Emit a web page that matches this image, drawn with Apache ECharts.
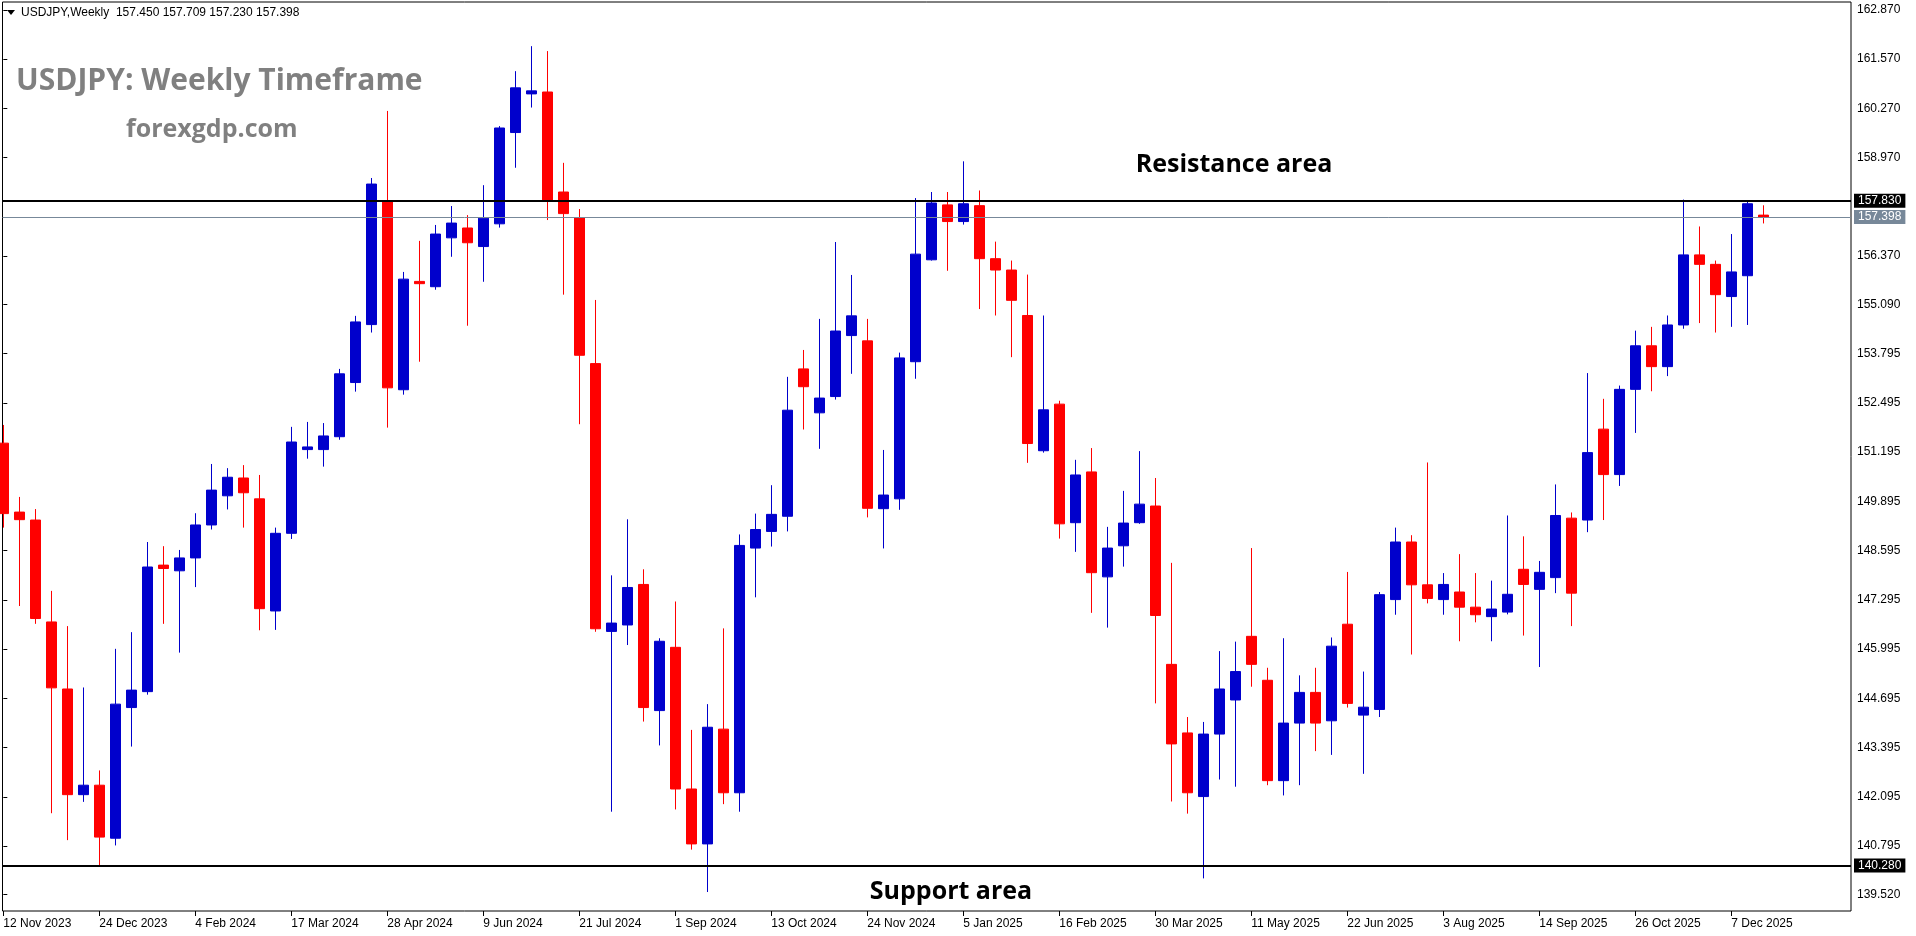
<!DOCTYPE html>
<html><head><meta charset="utf-8">
<script src="https://cdn.jsdelivr.net/npm/echarts@6/dist/echarts.min.js"></script>
<style>html,body{margin:0;padding:0;background:#fff;overflow:hidden}#c{width:1916px;height:936px}</style>
</head><body><div id="c"></div>
<script>
const dates = [
'12 Nov 2023','19 Nov 2023','26 Nov 2023','3 Dec 2023','10 Dec 2023','17 Dec 2023','24 Dec 2023','31 Dec 2023',
'7 Jan 2024','14 Jan 2024','21 Jan 2024','28 Jan 2024','4 Feb 2024','11 Feb 2024','18 Feb 2024','25 Feb 2024',
'3 Mar 2024','10 Mar 2024','17 Mar 2024','24 Mar 2024','31 Mar 2024','7 Apr 2024','14 Apr 2024','21 Apr 2024','28 Apr 2024',
'5 May 2024','12 May 2024','19 May 2024','26 May 2024','2 Jun 2024','9 Jun 2024','16 Jun 2024','23 Jun 2024','30 Jun 2024',
'7 Jul 2024','14 Jul 2024','21 Jul 2024','28 Jul 2024','4 Aug 2024','11 Aug 2024','18 Aug 2024','25 Aug 2024',
'1 Sep 2024','8 Sep 2024','15 Sep 2024','22 Sep 2024','29 Sep 2024','6 Oct 2024','13 Oct 2024','20 Oct 2024','27 Oct 2024',
'3 Nov 2024','10 Nov 2024','17 Nov 2024','24 Nov 2024','1 Dec 2024','8 Dec 2024','15 Dec 2024','22 Dec 2024','29 Dec 2024',
'5 Jan 2025','12 Jan 2025','19 Jan 2025','26 Jan 2025','2 Feb 2025','9 Feb 2025','16 Feb 2025','23 Feb 2025',
'2 Mar 2025','9 Mar 2025','16 Mar 2025','23 Mar 2025','30 Mar 2025','6 Apr 2025','13 Apr 2025','20 Apr 2025','27 Apr 2025',
'4 May 2025','11 May 2025','18 May 2025','25 May 2025','1 Jun 2025','8 Jun 2025','15 Jun 2025','22 Jun 2025','29 Jun 2025',
'6 Jul 2025','13 Jul 2025','20 Jul 2025','27 Jul 2025','3 Aug 2025','10 Aug 2025','17 Aug 2025','24 Aug 2025','31 Aug 2025',
'7 Sep 2025','14 Sep 2025','21 Sep 2025','28 Sep 2025','5 Oct 2025','12 Oct 2025','19 Oct 2025','26 Oct 2025',
'2 Nov 2025','9 Nov 2025','16 Nov 2025','23 Nov 2025','30 Nov 2025','7 Dec 2025','14 Dec 2025','21 Dec 2025'];

const opens = [
151.43,149.61,149.40,146.71,144.94,142.15,142.40,141.00,144.45,144.87,148.21,148.06,148.40,149.27,150.04,150.51,
149.96,147.00,149.05,151.26,151.26,151.60,153.03,154.56,157.82,152.84,155.70,155.56,156.85,157.11,156.62,157.22,
159.63,160.65,160.70,158.06,157.38,153.53,146.46,146.63,147.70,144.37,146.04,142.30,140.85,143.88,142.20,148.66,
149.10,149.50,153.39,152.23,152.66,154.27,154.13,149.70,149.96,153.58,156.27,157.72,157.28,157.70,156.30,156.00,
154.80,151.23,152.46,149.33,150.67,147.90,148.72,149.33,149.77,145.59,143.78,142.10,143.75,144.65,146.33,145.17,
142.52,144.04,144.85,144.10,146.65,144.25,144.40,147.30,148.82,147.69,147.30,147.50,147.10,146.85,146.97,148.10,
147.57,147.88,149.45,149.40,151.80,150.60,152.85,154.00,153.45,154.55,156.40,156.15,155.30,155.85,157.450];
const highs = [
151.91,150.01,149.69,147.53,146.60,144.98,142.79,146.00,146.44,148.82,148.71,148.61,149.58,150.88,150.77,150.85,
150.59,149.20,151.86,151.99,151.96,153.39,154.79,158.43,160.20,155.95,156.77,157.19,157.69,157.45,158.24,159.80,
161.25,161.91,161.78,158.83,157.61,155.21,147.94,149.42,148.10,146.28,147.25,143.86,144.54,146.54,149.02,149.57,
150.32,153.18,153.89,154.71,156.74,155.87,154.71,151.25,153.82,157.90,158.06,158.06,158.87,158.10,156.75,156.25,
155.88,154.80,152.55,150.99,151.30,149.22,150.17,151.22,150.51,148.27,144.20,144.07,145.94,146.19,148.66,145.50,
146.28,145.30,145.50,146.30,148.03,145.40,147.50,149.20,149.00,150.92,148.00,148.50,148.00,147.80,149.52,148.97,
148.32,150.34,149.60,153.28,152.60,152.95,154.40,154.50,154.80,157.86,157.15,156.25,156.95,157.80,157.709];
const lows = [
149.20,147.13,146.66,141.66,140.95,141.96,140.25,140.81,143.42,144.79,146.66,145.90,147.63,149.15,149.68,149.20,
146.49,146.50,148.90,151.02,150.81,151.52,152.79,154.35,151.84,152.71,153.58,155.48,156.35,154.53,155.69,157.12,
158.70,160.29,157.32,155.35,151.93,146.45,141.70,146.10,144.08,143.45,141.76,140.70,139.58,141.90,141.70,147.36,
148.70,149.10,151.79,151.28,152.58,153.26,149.47,148.65,149.67,153.13,156.25,155.98,157.20,154.97,154.80,153.70,
150.91,151.18,148.91,148.56,146.95,146.56,148.17,149.30,144.56,141.97,141.65,139.94,142.55,142.36,145.00,142.40,
142.13,142.40,143.30,143.20,144.45,142.70,144.20,146.90,145.85,147.20,146.90,146.20,146.70,146.20,146.91,146.35,
145.52,147.47,146.60,149.08,149.40,150.30,151.70,152.80,153.20,154.45,154.60,154.35,154.50,154.55,157.230];
const closes = [
149.57,149.41,146.80,144.97,142.15,142.40,141.03,144.54,144.91,148.16,148.12,148.40,149.27,150.19,150.53,150.12,
147.06,149.05,151.46,151.33,151.62,153.26,154.63,158.27,152.89,155.76,155.64,156.95,157.24,156.72,157.37,159.75,
160.81,160.73,157.85,157.49,153.75,146.53,146.68,147.62,144.45,146.20,142.30,140.85,143.93,142.20,148.73,149.15,
149.55,152.30,152.92,152.62,154.39,154.79,149.71,150.06,153.68,156.42,157.77,157.28,157.75,156.30,156.00,155.20,
151.42,152.31,149.30,150.59,148.01,148.66,149.32,149.82,146.88,143.49,142.20,143.75,144.94,145.40,145.59,142.52,
144.04,144.85,144.04,146.07,144.56,144.46,147.43,148.82,147.69,147.33,147.70,147.10,146.90,147.05,147.44,147.70,
148.02,149.52,147.47,151.18,150.60,152.85,154.00,153.45,154.55,156.40,156.15,155.35,155.95,157.75,157.398];

const priceTicks = [162.870,161.570,160.270,158.970,156.370,155.090,153.795,152.495,151.195,149.895,148.595,147.295,145.995,144.695,143.395,142.095,140.795,139.520];
const dateTickIdx = [0,6,12,18,24,30,36,42,48,54,60,66,72,78,84,90,96,102,108];
const resistance = 157.830;
const support = 140.280;
const lastPrice = 157.398;
const header = 'USDJPY,Weekly  157.450 157.709 157.230 157.398';

const candles = dates.map((d, i) => [i, opens[i], closes[i], lows[i], highs[i]]);
const AX_FONT = '"Liberation Sans", Arial, sans-serif';

const chart = echarts.init(document.getElementById('c'), null, {renderer: 'canvas'});
chart.setOption({
  animation: false,
  backgroundColor: '#ffffff',
  grid: {left: 2.5, right: 65, top: 2, bottom: 25, show: true, borderColor: '#000', borderWidth: 1, backgroundColor: 'transparent'},
  xAxis: {
    type: 'value', min: -0.05, max: 115.48,
    axisLine: {show: false},
    splitLine: {show: false},
    axisTick: {show: true, customValues: dateTickIdx, length: 5, lineStyle: {color: '#000'}},
    axisLabel: {show: true, customValues: dateTickIdx, formatter: v => dates[Math.round(v)] || '',
      align: 'left', margin: 7, color: '#000', fontSize: 12, fontFamily: AX_FONT}
  },
  yAxis: {
    type: 'value', position: 'right', min: 139.079, max: 163.076, scale: true,
    axisLine: {show: false},
    splitLine: {show: false},
    axisTick: {show: true, customValues: priceTicks, length: 4, lineStyle: {color: '#000'}},
    axisLabel: {show: true, customValues: priceTicks, formatter: v => v.toFixed(3),
      margin: 6, color: '#000', fontSize: 12, fontFamily: AX_FONT}
  },
  series: [{
    type: 'candlestick',
    dimensions: ['idx', 'open', 'close', 'low', 'high'],
    encode: {x: 'idx', y: ['open', 'close', 'low', 'high']},
    data: candles,
    barWidth: 10,
    itemStyle: {color: '#0000CC', color0: '#FF0000', borderColor: '#0000CC', borderColor0: '#FF0000', borderWidth: 1},
    markLine: {
      silent: true, symbol: 'none', animation: false,
      data: [
        {yAxis: resistance, lineStyle: {color: '#000', width: 2, type: 'solid'},
         label: {show: true, position: 'end', formatter: resistance.toFixed(3), color: '#fff', backgroundColor: '#000', padding: [1, 4], fontSize: 12, fontFamily: AX_FONT, distance: 3}},
        {yAxis: lastPrice, lineStyle: {color: '#778899', width: 1, type: 'solid'},
         label: {show: true, position: 'end', formatter: lastPrice.toFixed(3), color: '#fff', backgroundColor: '#778899', padding: [1, 4], fontSize: 12, fontFamily: AX_FONT, distance: 3}},
        {yAxis: support, lineStyle: {color: '#000', width: 2, type: 'solid'},
         label: {show: true, position: 'end', formatter: support.toFixed(3), color: '#fff', backgroundColor: '#000', padding: [1, 4], fontSize: 12, fontFamily: AX_FONT, distance: 3}}
      ]
    }
  }],
  graphic: [
    {type: 'polygon', shape: {points: [[7, 10], [15, 10], [11, 15]]}, style: {fill: '#000'}, z: 100},
    {type: 'text', x: 21, y: 13, style: {text: header, fill: '#000', font: '12px "Liberation Sans", Arial, sans-serif', textVerticalAlign: 'middle'}, z: 100},
    {type: 'text', x: 16, y: 81, style: {text: 'USDJPY: Weekly Timeframe', fill: '#808080', font: 'bold 30px "Open Sans", sans-serif', textVerticalAlign: 'middle'}, z: 100},
    {type: 'text', x: 126, y: 130, style: {text: 'forexgdp.com', fill: '#808080', font: 'bold 25px "Open Sans", sans-serif', textVerticalAlign: 'middle'}, z: 100},
    {type: 'text', x: 1234, y: 165, style: {text: 'Resistance area', fill: '#000', font: 'bold 25px "Open Sans", sans-serif', textAlign: 'center', textVerticalAlign: 'middle'}, z: 100},
    {type: 'text', x: 951, y: 892, style: {text: 'Support area', fill: '#000', font: 'bold 25px "Open Sans", sans-serif', textAlign: 'center', textVerticalAlign: 'middle'}, z: 100}
  ]
});
</script>
</body></html>
